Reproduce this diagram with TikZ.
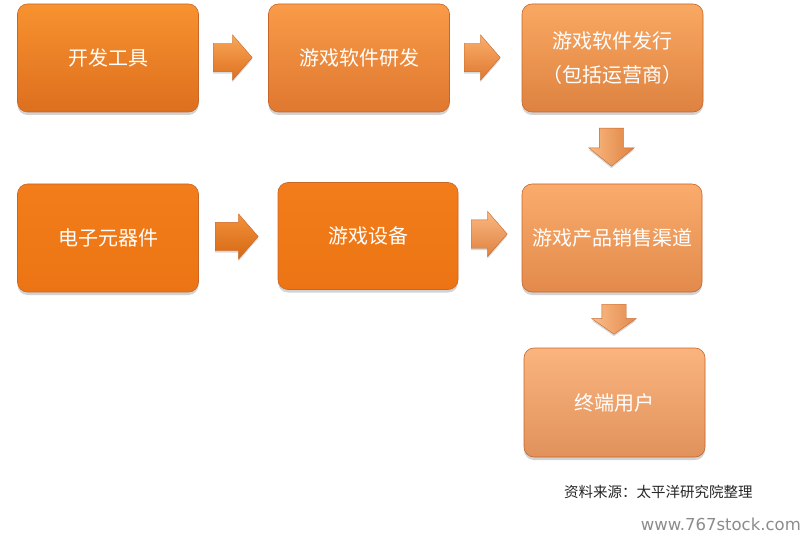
\documentclass[tikz,border=0pt]{standalone}
\usepackage{fontspec}
\newfontfamily\cjk{Noto Sans CJK SC}
\newfontfamily\wm{DejaVu Sans}
\usetikzlibrary{shapes.arrows,shadows}
\definecolor{b1t}{HTML}{F8922F}\definecolor{b1b}{HTML}{DD6F1E}
\definecolor{b2t}{HTML}{F99B48}\definecolor{b2b}{HTML}{DF7830}
\definecolor{b3t}{HTML}{F9A862}\definecolor{b3b}{HTML}{DE8240}
\definecolor{b4t}{HTML}{F27D1A}\definecolor{b4b}{HTML}{EC7414}
\definecolor{b6t}{HTML}{FAAC6C}\definecolor{b6b}{HTML}{E28A4C}
\definecolor{b7t}{HTML}{FAB47E}\definecolor{b7b}{HTML}{E1925C}
\definecolor{edge}{HTML}{C8662A}
\tikzset{
  box/.style={rounded corners=10pt, draw=edge, line width=0.6pt,
    minimum width=181pt, minimum height=108pt, inner sep=0pt,
    text=white, align=center, font=\cjk\fontsize{20}{34}\selectfont,
    drop shadow={shadow xshift=0pt, shadow yshift=-3pt, opacity=0.35}},
  rarrow/.style={single arrow, draw=edge, line width=0.4pt, inner xsep=0pt, inner ysep=14pt,
    single arrow head extend=8.5pt, single arrow tip angle=98, font=\tiny, anchor=tail,
    drop shadow={shadow xshift=0pt, shadow yshift=-2pt, opacity=0.3}},
  darrow/.style={rarrow, shape border rotate=270, inner xsep=12pt, inner ysep=0pt,
    single arrow head extend=10.5pt, single arrow tip angle=102},
}
\begin{document}
\begin{tikzpicture}[x=1pt,y=-1pt]
\useasboundingbox (0,0) rectangle (805,540);
\fill[white] (0,0) rectangle (805,540);
% boxes
\node[box, top color=b1t, bottom color=b1b] (kf) at (108,58) {开发工具};
\node[box, top color=b2t, bottom color=b2b] (yf) at (359,58) {游戏软件研发};
\node[box, top color=b3t, bottom color=b3b] (fx) at (612.5,58) {游戏软件发行\\（包括运营商）};
\node[box, top color=b4t, bottom color=b4b] (dz) at (108,238) {电子元器件};
\node[box, top color=b4t, bottom color=b4b, minimum width=180pt, minimum height=107pt] (sb) at (368,236) {游戏设备};
\node[box, top color=b6t, bottom color=b6b, minimum width=180pt] (xs) at (612,238) {游戏产品销售渠道};
\node[box, top color=b7t, bottom color=b7b, minimum height=109pt] (zd) at (614.5,402.5) {终端用户};
% block arrows
\node[rarrow, minimum height=39pt, top color=b1t!80!white, bottom color=b1b] (a1) at (213,57.5) {};
\node[rarrow, minimum height=36pt, top color=b2t!80!white, bottom color=b2b] (a2) at (464,57.5) {};
\node[rarrow, minimum height=43pt, top color=b4t!85!white, bottom color=b4b!90!black] (a3) at (215,236.5) {};
\node[rarrow, minimum height=36pt, top color=b6t!85!white, bottom color=b3b] (a4) at (471,234) {};
\node[darrow, minimum height=38pt, left color=b3t!80!white, right color=b3b] (d1) at (611.5,128) {};
\node[darrow, minimum height=30pt, single arrow head extend=10pt, single arrow tip angle=110, left color=b6t!80!white, right color=b6b] (d2) at (614,304) {};
% source and watermark
\node[anchor=west, inner sep=0pt, font=\cjk\fontsize{14.5}{16}\selectfont, text=black!85] (src) at (564,492) {资料来源：太平洋研究院整理};
\node[anchor=east, inner sep=0pt, font=\wm\fontsize{16.5}{18}\selectfont, text=black!45] (wm) at (801,524) {www.767stock.com};
\end{tikzpicture}
\end{document}
